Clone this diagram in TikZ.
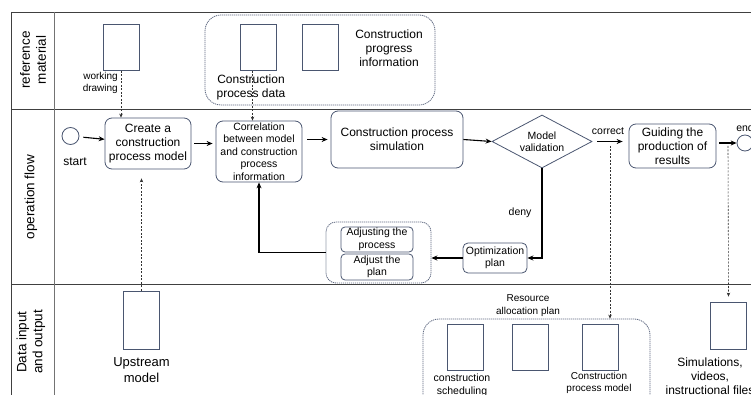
\documentclass[tikz,border=0pt]{standalone}
\usepackage{fontspec}
\setmainfont{Liberation Sans}
\usetikzlibrary{arrows.meta,shapes.geometric,positioning}

\definecolor{boxcol}{RGB}{74,86,112}
\definecolor{grpcol}{RGB}{96,106,130}

\tikzset{
  lane/.style={draw=black!75,line width=0.9pt},
  proc/.style={draw=boxcol,rounded corners=7pt,line width=0.8pt,align=center,inner sep=0pt},
  doc/.style={draw=boxcol,line width=0.8pt,minimum width=36pt,minimum height=46pt,inner sep=0pt},
  grp/.style={draw=grpcol,rounded corners=16pt,dash pattern=on 1.2pt off 0.8pt,line width=0.8pt,inner sep=0pt},
  circ/.style={circle,draw=boxcol,line width=0.8pt,minimum size=17pt,inner sep=0pt},
  dia/.style={diamond,draw=boxcol,line width=0.8pt,aspect=1.9,minimum width=100pt,minimum height=53pt,inner sep=0pt,align=center},
  flow/.style={-{Stealth[length=6pt,width=5pt]},line width=1.1pt},
  feed/.style={-{Stealth[length=4pt,width=3.5pt]},dash pattern=on 2pt off 1.5pt,line width=0.6pt,black!80},
  small/.style={font=\fontsize{10.5}{12.5}\selectfont,align=center,inner sep=0pt},
  mid/.style={font=\fontsize{12}{14}\selectfont,align=center,inner sep=0pt},
  lanelbl/.style={font=\fontsize{13.5}{16}\selectfont,align=center,rotate=90,inner sep=0pt},
}

\begin{document}
\begin{tikzpicture}[x=1pt,y=-1pt,font=\fontsize{12}{14}\selectfont]
\useasboundingbox (0,0) rectangle (751,395);
\clip (0,0) rectangle (751,395);

% swimlanes
\draw[lane] (11,12) -- (780,12);
\draw[lane] (11,109) -- (780,109);
\draw[lane] (11,284) -- (780,284);
\draw[lane] (11,12) -- (11,420);
\draw[lane,black!55] (54,12) -- (54,420);
\node[lanelbl] (lref) at (33,60) {reference\\material};
\node[lanelbl] (lflow) at (31,197) {operation flow};
\node[lanelbl] (ldata) at (31,342) {Data input\\and output};

% reference material
\node[doc] (wdoc) at (121,47.5) {};
\node[small,font=\fontsize{10}{12}\selectfont,anchor=north east,align=right] (wdlbl) at (118,72) {working\\drawing};
\node[grp,minimum width=230pt,minimum height=90pt] (refgrp) at (320,60) {};
\node[doc] (cpdoc) at (258.5,47.5) {};
\node[doc] (progdoc) at (320.5,47.5) {};
\node[mid] (proglbl) at (389,48.5) {Construction\\progress\\information};
\node[mid] (cpdlbl) at (251,87) {Construction\\process data};

% operation flow
\node[circ] (start) at (70.5,136) {};
\node[mid] (startlbl) at (75,162) {start};
\node[proc,minimum width=86pt,minimum height=51pt] (create) at (148,143.5) {Create a\\construction\\process model};
\node[proc,small,minimum width=86pt,minimum height=61pt] (corr) at (259,151.5)
  {\fontsize{10.5}{12}\selectfont Correlation\\between model\\and construction\\process\\information};
\node[proc,minimum width=132pt,minimum height=57pt] (sim) at (397,139.5) {Construction process\\simulation};
\node[dia,font=\fontsize{10.5}{12.5}\selectfont] (valid) at (542,141.5) {Model\\validation};
\node[small] (correctlbl) at (608,131) {correct};
\node[proc,minimum width=87pt,minimum height=44pt] (guide) at (672.5,146) {Guiding the\\production of\\results};
\node[circ,minimum size=16pt] (end) at (745,143) {};
\node[small] (endlbl) at (745,128) {end};
\node[proc,small,minimum width=64pt,minimum height=30pt,rounded corners=5pt] (opt) at (495,258) {Optimization\\plan};
\node[grp,minimum width=105pt,minimum height=61pt,rounded corners=10pt] (adjgrp) at (378.5,252.5) {};
\node[proc,small,minimum width=72pt,minimum height=25pt,rounded corners=4pt] (adjproc) at (377,239.5) {Adjusting the\\process};
\node[proc,small,minimum width=72pt,minimum height=26pt,rounded corners=4pt] (adjplan) at (377,267) {Adjust the\\plan};

\draw[flow,shorten <=4pt] (start) -- (create);
\draw[flow,shorten <=3pt,shorten >=3pt] (create.east) -- (create.east -| corr.west);
\draw[flow,shorten <=5pt,shorten >=3pt] (sim.west -| corr.east) -- (sim.west);
\draw[flow] (sim.east) -- (valid.west);
\draw[flow,shorten <=5pt,shorten >=6pt] (valid.east) -- (valid.east -| guide.west);
\draw[flow,shorten <=3pt] (end.west -| guide.east) -- (end.west);
\draw[flow] (valid.south) |- (opt.east) node[small,pos=0.25,left=10pt] (denylbl) {deny};
\draw[flow] (opt.west) -- (opt.west -| adjgrp.east);
\draw[flow] (adjgrp.west) -| (corr.south);

% data input and output
\node[doc,minimum height=58pt] (updoc) at (141.5,320) {};
\node[small,font=\fontsize{13}{16}\selectfont] (uplbl) at (141.5,370) {Upstream\\model};
\node[small,font=\fontsize{10}{13}\selectfont] (reslbl) at (528,305.5) {Resource\\allocation plan};
\node[grp,minimum width=227pt,minimum height=100pt] (resgrp) at (536.5,369) {};
\node[doc] (scheddoc) at (465,347) {};
\node[doc] (resdoc) at (530,347) {};
\node[doc] (cpmdoc) at (600,347) {};
\node[small,font=\fontsize{10.5}{13}\selectfont] (schedlbl) at (462,385.5) {construction\\scheduling};
\node[small,font=\fontsize{10}{12}\selectfont] (cpmlbl) at (599,383) {Construction\\process model};
\node[doc,minimum height=47pt] (outdoc) at (728.5,325.5) {};
\node[mid] (outlbl) at (710,376) {Simulations,\\videos,\\instructional files};

% dashed data links
\coordinate (tapres) at (610,146);
\coordinate (tapout) at (728,146);
\draw[feed] (wdoc.south) -- (wdoc.south |- create.north);
\draw[feed] ([xshift=-6pt]cpdoc.south) -- ([xshift=-6pt]cpdoc.south |- corr.north);
\draw[feed,shorten >=9pt] (updoc.north) -- (updoc.north |- create.south);
\draw[feed] (tapres) -- (tapres |- resgrp.north);
\draw[feed,shorten >=5pt] (tapout) -- (outdoc.north);
\end{tikzpicture}
\end{document}
